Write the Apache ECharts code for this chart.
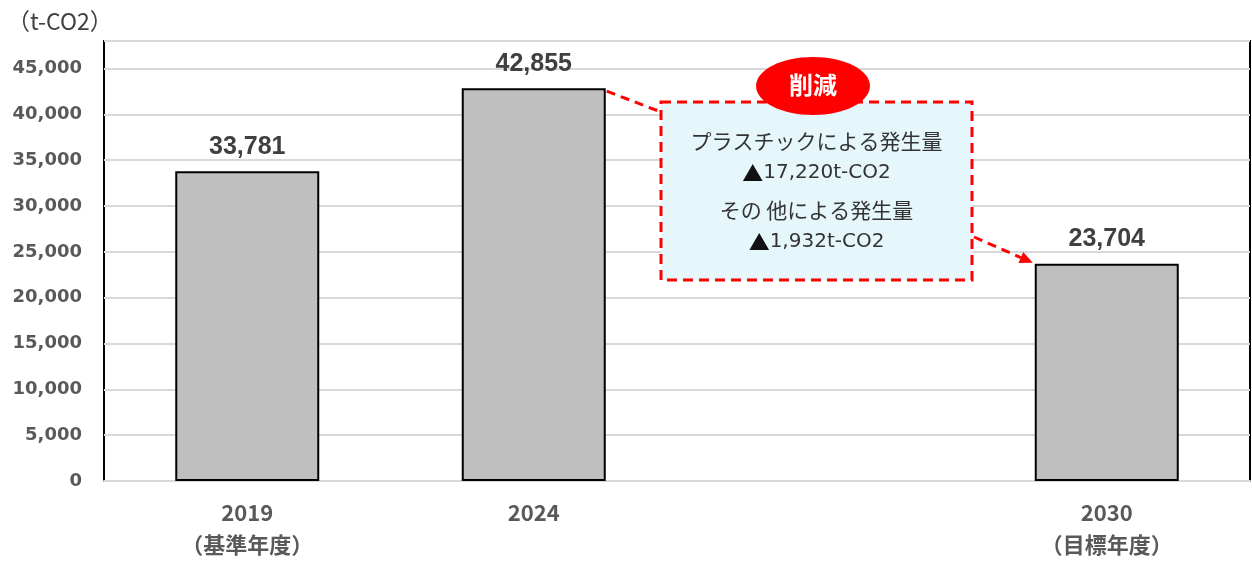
<!DOCTYPE html>
<html><head><meta charset="utf-8">
<script src="https://cdn.jsdelivr.net/npm/echarts@6/dist/echarts.min.js"></script>
<style>html,body{margin:0;padding:0;background:#fff}#c{width:1252px;height:561px}</style>
</head><body><div id="c"></div>
<script>
// ---- data ----
const categories = ['2019\n（基準年度）', '2024', '', '2030\n（目標年度）'];
const emissions = [33781, 42855, null, 23704];
const unitLabel = '（t-CO2）';
const badgeText = '削減';
const noteLines = ['プラスチックによる発生量', '▲17,220t-CO2', 'その 他による発生量', '▲1,932t-CO2'];

const fmt = v => Number(v).toLocaleString('en-US');
const chart = echarts.init(document.getElementById('c'), null, {renderer: 'canvas'});
const BAR_W = 144;
chart.setOption({
  animation: false,
  backgroundColor: '#fff',
  title: {
    text: unitLabel, left: 2, top: 5,
    textStyle: {fontSize: 23, fontWeight: 'normal', color: '#404040', fontFamily: 'Noto Sans CJK JP'}
  },
  grid: {left: 104, right: 2, top: 41, bottom: 80, show: true, borderColor: '#000', borderWidth: 2, backgroundColor: 'transparent'},
  xAxis: {
    type: 'category', data: categories,
    axisLine: {show: true, lineStyle: {color: '#d9d9d9', width: 2}},
    axisTick: {show: false},
    axisLabel: {margin: 16, fontSize: 22, fontWeight: 'bold', color: '#595959', lineHeight: 32,
      fontFamily: 'Noto Sans CJK JP', interval: 0}
  },
  yAxis: {
    type: 'value', min: 0, max: 48000, interval: 5000,
    axisLine: {show: false}, axisTick: {show: false},
    axisLabel: {margin: 22, fontSize: 18, fontWeight: 'bold', color: '#595959', fontFamily: 'DejaVu Sans',
      showMaxLabel: false, formatter: v => v === 48000 ? '' : fmt(v)},
    splitLine: {lineStyle: {color: '#d9d9d9', width: 2}}
  },
  series: [{
    type: 'bar', data: emissions, barWidth: BAR_W,
    itemStyle: {color: '#bfbfbf', borderColor: '#000', borderWidth: 2},
    label: {show: true, position: 'top', distance: 12, fontSize: 25, fontWeight: 'bold', color: '#404040',
      fontFamily: 'Liberation Sans', formatter: p => fmt(p.value)}
  }]
});

// annotation layout
const pA = chart.convertToPixel({seriesIndex: 0}, [1, emissions[1]]);
const pB = chart.convertToPixel({seriesIndex: 0}, [3, emissions[3]]);
const box = {x: 661, y: 102, w: 311, h: 178};
const red = '#ff0000';
const dash = [9, 6];
const l1 = {x1: pA[0] + BAR_W / 2 + 1, y1: pA[1] + 3, x2: box.x, y2: box.y + 10};
const l2 = {x1: box.x + box.w + 2, y1: box.y + 135, x2: pB[0] - BAR_W / 2 - 2, y2: pB[1] - 1};
const ang = Math.atan2(l2.y2 - l2.y1, l2.x2 - l2.x1);
const ah = 13, aw = 6;
const tip = [l2.x2, l2.y2];
const base = [tip[0] - ah * Math.cos(ang), tip[1] - ah * Math.sin(ang)];
const arrowPts = [tip,
  [base[0] + aw * Math.sin(ang), base[1] - aw * Math.cos(ang)],
  [base[0] - aw * Math.sin(ang), base[1] + aw * Math.cos(ang)]];
const cx = box.x + box.w / 2;
const textY = [141, 173, 210, 242];
const richStyles = {
  tri: {fontFamily: 'Noto Sans CJK JP', fontSize: 21, fill: '#111'},
  num: {fontFamily: 'DejaVu Sans', fontSize: 20, fill: '#333'}
};
function noteText(t) {
  if (t.charAt(0) === '▲') {
    return {text: '{tri|▲}{num|' + t.slice(1) + '}', rich: richStyles};
  }
  return {text: t, font: '21px "Noto Sans CJK JP"', fill: '#333'};
}
chart.setOption({
  graphic: [
    {type: 'line', z: 50, shape: l1, style: {stroke: red, lineWidth: 3, lineDash: dash}},
    {type: 'line', z: 50, shape: {x1: l2.x1, y1: l2.y1, x2: base[0], y2: base[1]}, style: {stroke: red, lineWidth: 3, lineDash: dash}},
    {type: 'polygon', z: 50, shape: {points: arrowPts}, style: {fill: red}},
    {type: 'rect', z: 51, shape: {x: box.x, y: box.y, width: box.w, height: box.h},
      style: {fill: '#e6f7fb', stroke: red, lineWidth: 3, lineDash: [10, 6]}},
    {type: 'ellipse', z: 52, shape: {cx: 813, cy: 86, rx: 57, ry: 29}, style: {fill: red}},
    {type: 'text', z: 53, x: 813, y: 85, style: {text: badgeText, fill: '#fff', font: 'bold 24px "Noto Sans CJK JP"', textAlign: 'center', textVerticalAlign: 'middle'}},
    ...noteLines.map((t, i) => ({type: 'text', z: 53, x: cx, y: textY[i],
      style: Object.assign({textAlign: 'center', textVerticalAlign: 'middle'}, noteText(t))}))
  ]
});
</script></body></html>
